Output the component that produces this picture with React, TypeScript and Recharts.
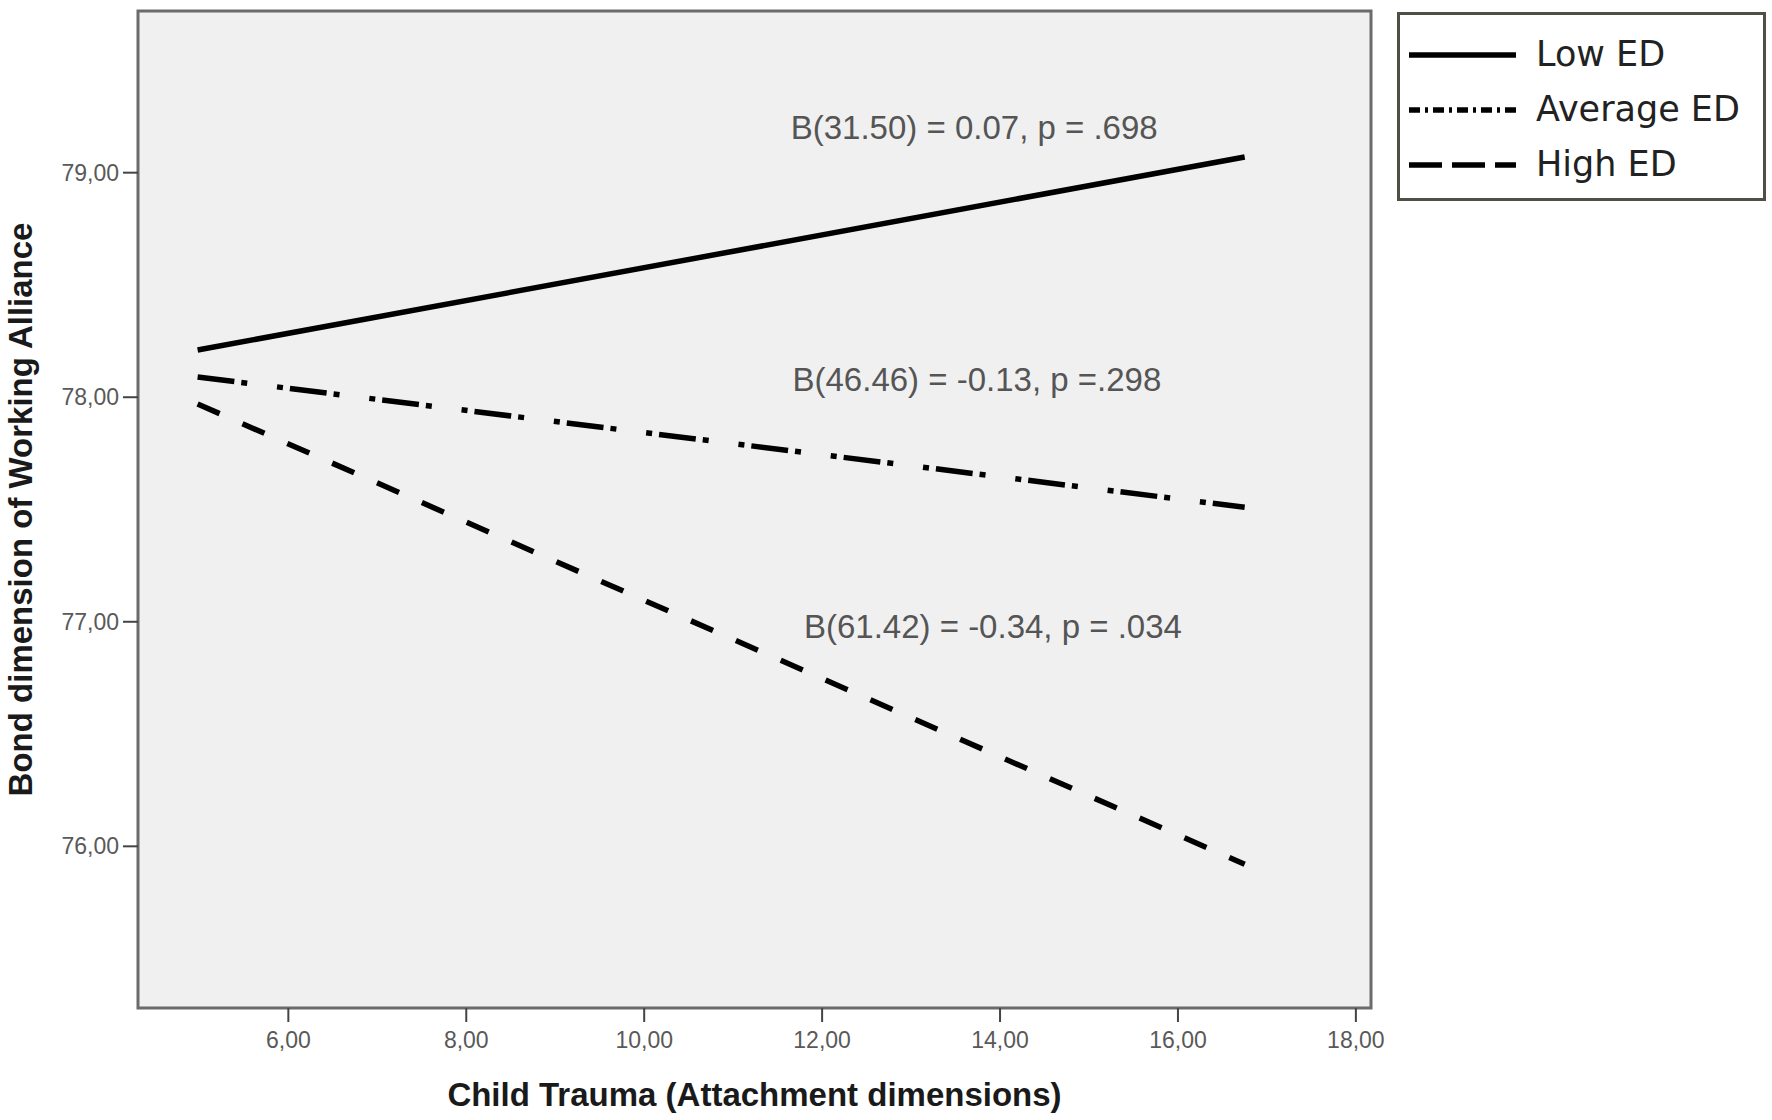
import React from "react";
import {
  LineChart,
  Line,
  XAxis,
  YAxis,
  ReferenceArea,
  ReferenceDot,
  Legend,
} from "recharts";

// values
const xValues = [4.98, 16.75];
const lowED = [78.21, 79.07];
const averageED = [78.09, 77.51];
const highED = [77.97, 75.92];

const xTicks = [6, 8, 10, 12, 14, 16, 18];
const yTicks = [76, 77, 78, 79];
const xDomain = [4.31, 18.17];
const yDomain = [75.28, 79.72];

const seriesNames = ["Low ED", "Average ED", "High ED"];
const annotations = [
  "B(31.50) = 0.07, p = .698",
  "B(46.46) = -0.13, p =.298",
  "B(61.42) = -0.34, p = .034",
];
const annotationX = [13.71, 13.74, 13.92];
const annotationY = [79.2, 78.08, 76.98];

const lineDash: Record<string, string | undefined> = {
  "Low ED": undefined,
  "Average ED": "37 7 6 30 6 7",
  "High ED": "24 25",
};
const legendDash: Record<string, string | undefined> = {
  "Low ED": undefined,
  "Average ED": "11 5 3 5",
  "High ED": "33 10",
};

const toPoints = (ys: number[]) => xValues.map((x, i) => ({ x, y: ys[i] }));
const series = [lowED, averageED, highED].map((ys, i) => ({
  name: seriesNames[i],
  data: toPoints(ys),
}));

const fmt = (v: number) => v.toFixed(2).replace(".", ",");

const tickStyle = {
  fontFamily: "Liberation Sans, Arial, sans-serif",
  fontSize: 23,
  fill: "#595959",
};

// legend drawn in series order (Recharts would sort by name)
function LegendBox() {
  return (
    <div
      style={{
        boxSizing: "border-box",
        width: 369,
        height: 189,
        border: "3px solid #4f4f45",
        background: "#fff",
        paddingTop: 12,
        paddingLeft: 9,
      }}
    >
      {seriesNames.map((name) => (
        <div key={name} style={{ display: "flex", alignItems: "center", height: 55 }}>
          <svg width={107} height={12} style={{ display: "block" }}>
            <line
              x1={0}
              y1={6}
              x2={107}
              y2={6}
              stroke="#000"
              strokeWidth={5.5}
              strokeDasharray={legendDash[name]}
            />
          </svg>
          <span
            style={{
              marginLeft: 20,
              fontFamily: "DejaVu Sans, Verdana, sans-serif",
              fontSize: 35,
              color: "#222",
              lineHeight: 1,
            }}
          >
            {name}
          </span>
        </div>
      ))}
    </div>
  );
}

export default function App() {
  return (
    <div style={{ position: "absolute", left: 0, top: 0, background: "#fff" }}>
      <LineChart
        width={1772}
        height={1120}
        margin={{ top: 11, right: 401, bottom: 0, left: 0 }}
      >
        <ReferenceArea
          x1={xDomain[0]}
          x2={xDomain[1]}
          y1={yDomain[0]}
          y2={yDomain[1]}
          fill="#f0f0f0"
          fillOpacity={1}
          stroke="#6b6b6b"
          strokeWidth={3}
        />
        <XAxis
          type="number"
          dataKey="x"
          domain={xDomain}
          ticks={xTicks}
          allowDataOverflow
          tickFormatter={fmt}
          height={112}
          axisLine={false}
          tickLine={{ stroke: "#444", strokeWidth: 2 }}
          tickSize={14}
          tickMargin={10}
          tick={tickStyle}
          label={{
            value: "Child Trauma (Attachment dimensions)",
            position: "insideBottom",
            offset: 14,
            style: {
              fontFamily: "Liberation Sans, Arial, sans-serif",
              fontWeight: 700,
              fontSize: 33,
              fill: "#1a1a1a",
            },
          }}
        />
        <YAxis
          type="number"
          domain={yDomain}
          ticks={yTicks}
          allowDataOverflow
          tickFormatter={fmt}
          width={138}
          axisLine={false}
          tickLine={{ stroke: "#444", strokeWidth: 2 }}
          tickSize={15}
          tickMargin={4}
          tick={tickStyle}
          label={{
            value: "Bond dimension of Working Alliance",
            angle: -90,
            position: "insideLeft",
            offset: 20,
            style: {
              textAnchor: "middle",
              fontFamily: "Liberation Sans, Arial, sans-serif",
              fontWeight: 700,
              fontSize: 33,
              fill: "#1a1a1a",
            },
          }}
        />
        {series.map((s) => (
          <Line
            key={s.name}
            name={s.name}
            data={s.data}
            dataKey="y"
            type="linear"
            stroke="#000"
            strokeWidth={5.5}
            strokeDasharray={lineDash[s.name]}
            dot={false}
            activeDot={false}
            isAnimationActive={false}
          />
        ))}
        {annotations.map((t, i) => (
          <ReferenceDot
            key={t}
            x={annotationX[i]}
            y={annotationY[i]}
            r={0}
            fill="none"
            stroke="none"
            label={{
              value: t,
              position: "center",
              style: {
                fontFamily: "Liberation Sans, Arial, sans-serif",
                fontSize: 33,
                fill: "#555",
              },
            }}
          />
        ))}
        <Legend
          layout="vertical"
          align="center"
          verticalAlign="middle"
          content={<LegendBox />}
          wrapperStyle={{ position: "absolute", left: 1397, top: 12, width: 369, height: 189 }}
        />
      </LineChart>
    </div>
  );
}
